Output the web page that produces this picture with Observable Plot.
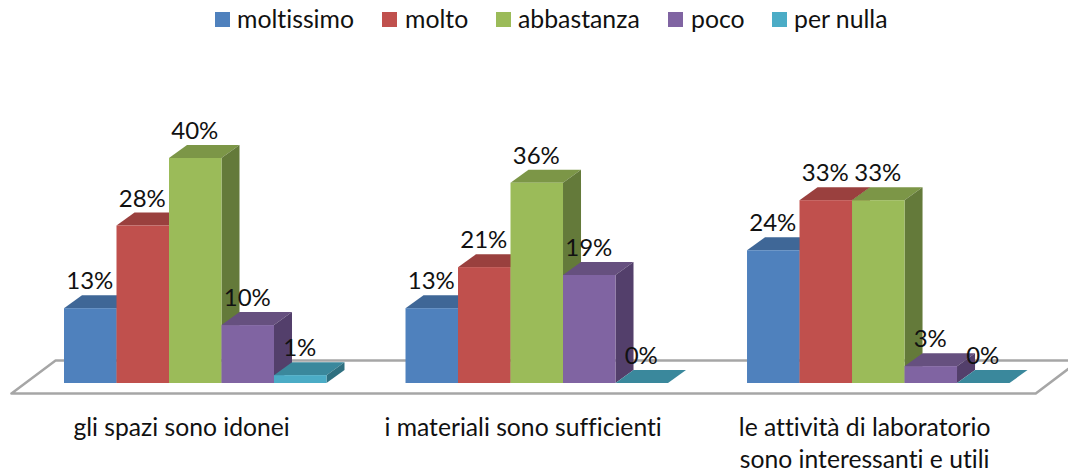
<!DOCTYPE html>
<html>
<head>
<meta charset="utf-8">
<script src="https://cdn.jsdelivr.net/npm/d3@7"></script>
<script src="https://cdn.jsdelivr.net/npm/@observablehq/plot@0.6"></script>
<style>
html,body{margin:0;padding:0;background:#fff;width:1068px;height:475px;overflow:hidden}
#legend{height:40px;position:relative;font:24.8px Lato,sans-serif;color:#111;font-variant-ligatures:none}
#legend span{position:absolute;top:3px;line-height:32px;white-space:nowrap}
#legend i{position:absolute;top:12px;width:15px;height:15px}
#chart svg text{font-variant-ligatures:none}
</style>
</head>
<body>
<div id="legend"></div>
<div id="chart"></div>
<script>
const categories = ["gli spazi sono idonei", "i materiali sono sufficienti", "le attività di laboratorio\nsono interessanti e utili"];
const seriesNames = ["moltissimo", "molto", "abbastanza", "poco", "per nulla"];
const moltissimo = [13.3, 13.3, 23.6];
const molto = [28, 20.6, 32.5];
const abbastanza = [40, 35.6, 32.5];
const poco = [10.3, 19.2, 3];
const perNulla = [1.4, 0, 0];
const seriesValues = [moltissimo, molto, abbastanza, poco, perNulla];
const frontColors = ["#4f81bd", "#c0504d", "#9bbb59", "#8064a2", "#4bacc6"];
const topColors = ["#3f6797", "#9a403e", "#7c9647", "#66507f", "#3a889c"];
const sideColors = ["#335480", "#7d3432", "#647a3a", "#533f6b", "#2f7080"];
const legendX = [[215, 237], [382, 405], [496, 518], [668, 691], [772, 794]];

const groupStep = 6.505, depthX = 0.343, depthY = 2.31;
const floorPts = [
  {x: -1.01, y: -1.78}, {x: -0.17, y: 4.09}, {x: 19.33, y: 4.09}, {x: 18.5, y: -1.78}, {x: -1.01, y: -1.78}
];

const legend = d3.select("#legend");
seriesNames.forEach((s, j) => {
  legend.append("i").style("left", legendX[j][0] + "px").style("background", frontColors[j]);
  legend.append("span").style("left", legendX[j][1] + "px").text(s);
});

const marks = [Plot.line(floorPts, {x: "x", y: "y", stroke: "#a6a6a6", strokeWidth: 2.5, fill: "#fff"})];
const labels = [];
categories.forEach((c, i) => {
  seriesNames.forEach((s, j) => {
    const v = seriesValues[j][i];
    const l = i * groupStep + j, r = l + 1;
    marks.push(Plot.areaX([{y: v, x1: l, x2: r}, {y: v + depthY, x1: l + depthX, x2: r + depthX}],
      {y: "y", x1: "x1", x2: "x2", fill: topColors[j]}));
    if (v > 0) {
      marks.push(Plot.areaY([{x: r, y1: 0, y2: v}, {x: r + depthX, y1: depthY, y2: v + depthY}],
        {x: "x", y1: "y1", y2: "y2", fill: sideColors[j]}));
      marks.push(Plot.rect([{x1: l, x2: r, y1: 0, y2: v}],
        {x1: "x1", x2: "x2", y1: "y1", y2: "y2", fill: frontColors[j]}));
    }
    labels.push({x: l + 0.5, y: v, label: Math.round(v) + "%"});
  });
});
marks.push(Plot.text(labels, {x: "x", y: "y", text: "label", dy: -27, dx: -1, fontSize: 24, fill: "#111", fontFamily: "Lato, sans-serif"}));
marks.push(Plot.text(categories.map((c, i) => ({x: i * groupStep + 2.23, c})), {
  x: "x", y: () => -7.5, text: "c", fontSize: 24.7, fill: "#111", fontFamily: "Lato, sans-serif",
  lineHeight: 1.3, lineAnchor: "top", dy: -13
}));

const plot = Plot.plot({
  width: 1068, height: 435,
  marginTop: 0, marginRight: 0, marginBottom: 0, marginLeft: 0,
  x: {type: "linear", domain: [-64 / 52.5, (1068 - 64) / 52.5], range: [0, 1068], axis: null},
  y: {type: "linear", domain: [-92 / 5.625, 343 / 5.625], range: [435, 0], axis: null},
  marks
});
document.getElementById("chart").append(plot);
</script>
</body>
</html>
